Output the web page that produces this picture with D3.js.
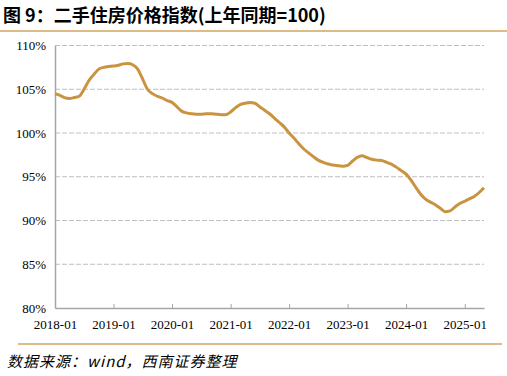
<!DOCTYPE html>
<html>
<head>
<meta charset="utf-8">
<script src="https://cdn.jsdelivr.net/npm/d3@7"></script>
<style>
  body { margin: 0; background: #fff; }
  svg { display: block; }
</style>
</head>
<body>
<div id="chart"></div>
<script>
// data: second-hand housing price index, same month last year = 100, monthly from 2018-01
const startMonth = "2018-01";
const indexValues = [
  104.5, 104.3, 104.05, 103.95, 104.05, 104.2, 105.0, 106.0, 106.7, 107.3, 107.5, 107.6,
  107.65, 107.75, 107.9, 107.95, 107.8, 107.3, 106.2, 105.0, 104.5, 104.2, 104.0, 103.7,
  103.5, 103.0, 102.5, 102.3, 102.2, 102.15, 102.15, 102.2, 102.2, 102.15, 102.1, 102.1,
  102.4, 102.9, 103.25, 103.4, 103.5, 103.4, 103.0, 102.6, 102.2, 101.7, 101.2, 100.7,
  100.0, 99.4, 98.8, 98.2, 97.75, 97.3, 96.9, 96.65, 96.45, 96.35, 96.25, 96.2,
  96.3, 96.8, 97.2, 97.4, 97.2, 97.0, 96.9, 96.85, 96.65, 96.45, 96.1, 95.7,
  95.3, 94.6, 93.8, 93.0, 92.45, 92.1, 91.8, 91.4, 91.0, 91.1, 91.55, 91.95,
  92.2, 92.5, 92.75, 93.2, 93.75
];
const yTicks = [80, 85, 90, 95, 100, 105, 110];
const xTickLabels = ["2018-01", "2019-01", "2020-01", "2021-01", "2022-01", "2023-01", "2024-01", "2025-01"];
const titleText = "图 9：二手住房价格指数(上年同期=100)";
const sourceText = "数据来源：wind，西南证券整理";

const width = 507, height = 376;
const margin = { top: 45.5, right: 23, bottom: 68, left: 55 };
const serif = "'Liberation Serif', 'Times New Roman', Times, serif";

const parseMonth = d3.timeParse("%Y-%m");
const start = parseMonth(startMonth);
const data = indexValues.map((v, i) => ({ date: d3.timeMonth.offset(start, i), value: v }));

const svg = d3.select("#chart").append("svg")
    .attr("width", width)
    .attr("height", height);

// title + rules
svg.append("text")
    .attr("x", 3)
    .attr("y", 22)
    .attr("font-family", "'Noto Sans CJK SC', sans-serif")
    .attr("font-weight", "bold")
    .attr("font-size", 18)
    .attr("fill", "#000")
    .text(titleText);

svg.append("line")
    .attr("x1", 0).attr("x2", width)
    .attr("y1", 31).attr("y2", 31)
    .attr("stroke", "#D2A35E")
    .attr("stroke-width", 1.5);

svg.append("line")
    .attr("x1", 18).attr("x2", 502)
    .attr("y1", 344).attr("y2", 344)
    .attr("stroke", "#D2A35E")
    .attr("stroke-width", 1.5);

svg.append("text")
    .attr("x", 7)
    .attr("y", 367)
    .attr("font-family", "'Noto Sans CJK SC', sans-serif")
    .attr("font-style", "italic")
    .attr("font-size", 15)
    .attr("letter-spacing", 1)
    .attr("fill", "#000")
    .text(sourceText);

// scales
const x = d3.scaleTime()
    .domain(d3.extent(data, d => d.date))
    .range([margin.left, width - margin.right]);

const y = d3.scaleLinear()
    .domain([80, 110])
    .range([height - margin.bottom, margin.top]);

// grid
svg.append("g")
    .selectAll("line")
    .data(yTicks.filter(d => d > 80))
    .enter()
    .append("line")
    .attr("x1", margin.left)
    .attr("x2", width - margin.right)
    .attr("y1", d => y(d))
    .attr("y2", d => y(d))
    .attr("stroke", "#BFBFBF")
    .attr("stroke-width", 1)
    .attr("stroke-dasharray", "5,2");

// y axis
const yAxis = svg.append("g")
    .attr("transform", `translate(${margin.left},0)`)
    .call(d3.axisLeft(y).tickValues(yTicks).tickSize(0).tickPadding(9).tickFormat(d => d + "%"))
    .attr("font-family", serif)
    .attr("font-size", 13);
yAxis.select(".domain").attr("stroke", "#A6A6A6").attr("stroke-width", 1.5);
yAxis.selectAll("text").attr("fill", "#000");

// x axis
const xTickDates = xTickLabels.map(parseMonth);
const xAxis = svg.append("g")
    .attr("transform", `translate(0,${height - margin.bottom})`)
    .call(d3.axisBottom(x).tickValues(xTickDates).tickSizeInner(-4).tickSizeOuter(0).tickPadding(12)
        .tickFormat(d3.timeFormat("%Y-%m")))
    .attr("font-family", serif)
    .attr("font-size", 13);
xAxis.select(".domain").attr("stroke", "#A6A6A6").attr("stroke-width", 1.5);
xAxis.selectAll(".tick line").attr("stroke", "#A6A6A6");
xAxis.selectAll("text").attr("fill", "#000");

// line
const line = d3.line()
    .x(d => x(d.date))
    .y(d => y(d.value))
    .curve(d3.curveMonotoneX);

svg.append("path")
    .datum(data)
    .attr("fill", "none")
    .attr("stroke", "#C9933F")
    .attr("stroke-width", 3)
    .attr("stroke-linejoin", "round")
    .attr("d", line);
</script>
</body>
</html>
